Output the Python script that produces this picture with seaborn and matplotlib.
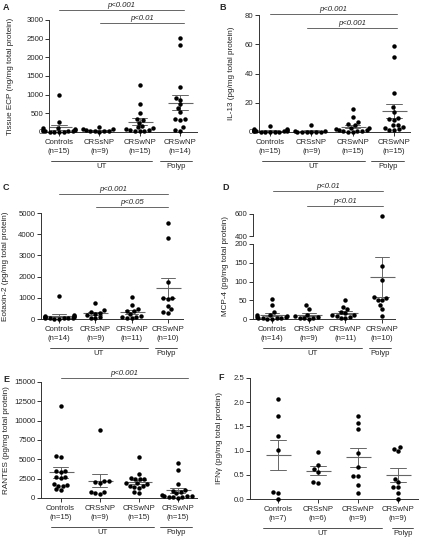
import numpy as np
import pandas as pd
import matplotlib
matplotlib.use("Agg")
import matplotlib.pyplot as plt
import matplotlib.transforms as mtrans
import seaborn as sns

W, H = 421, 539
FS = 5.6
FS_LAB = 5.9

groups = ["Controls", "CRSsNP", "CRSwNP_UT", "CRSwNP_Polyp"]
group_names = ["Controls", "CRSsNP", "CRSwNP", "CRSwNP"]

# values, one list per group
ecp = [
    [980, 280, 120, 100, 90, 60, 50, 40, 30, 20, 20, 10, 10, 5, 5],
    [130, 90, 70, 50, 40, 30, 20, 20, 10],
    [1260, 750, 500, 350, 330, 250, 160, 130, 100, 80, 60, 50, 40, 30, 20],
    [2520, 2340, 1200, 920, 870, 750, 640, 540, 350, 340, 330, 130, 50, 40],
]
il13 = [
    [4.2, 2.3, 2.0, 1.5, 1.2, 1.0, 0.8, 0.6, 0.5, 0.4, 0.3, 0.2, 0.1, 0.1, 0.0],
    [4.5, 1.0, 0.5, 0.3, 0.2, 0.2, 0.1, 0.1, 0.0],
    [16, 10, 6.5, 5.5, 4.5, 3, 2.5, 2, 1.5, 1.2, 1, 0.8, 0.5, 0.3, 0.2],
    [59, 51.5, 27, 17, 14, 9.5, 9, 8.5, 5, 4.5, 3.5, 2.5, 2, 1.5, 1.5],
]
eotaxin2 = [
    [1100, 180, 150, 120, 100, 90, 80, 70, 60, 50, 40, 30, 20, 10],
    [760, 420, 330, 300, 250, 180, 80, 60, 40],
    [1050, 650, 450, 400, 380, 250, 120, 100, 80, 60, 50],
    [4550, 3820, 1750, 1000, 1000, 950, 600, 450, 350, 300],
]
mcp4 = [
    [53, 37, 18, 12, 10, 8, 6, 5, 4, 3, 2, 2, 1, 1],
    [38, 28, 12, 8, 6, 4, 3, 2, 1],
    [51, 33, 26, 20, 15, 12, 10, 8, 5, 3, 2],
    [580, 142, 104, 60, 57, 52, 50, 38, 27, 8],
]
rantes = [
    [11900, 5400, 5300, 3500, 3450, 3400, 2750, 2700, 2650, 1800, 1700, 1600, 1500, 1100, 1000],
    [8850, 2200, 2150, 2100, 2000, 800, 750, 600, 550],
    [5350, 3100, 2600, 2500, 2450, 2400, 2000, 1900, 1800, 1600, 1500, 1400, 1350, 750, 650],
    [4550, 3600, 1800, 1000, 900, 800, 600, 400, 300, 250, 200, 150, 100, 100, 50],
]
ifng = [
    [2.07, 1.72, 1.31, 1.01, 0.15, 0.13, 0.0],
    [0.98, 0.71, 0.61, 0.55, 0.35, 0.33],
    [1.71, 1.57, 1.45, 0.95, 0.67, 0.48, 0.48, 0.29, 0.12],
    [1.08, 1.04, 1.00, 0.42, 0.35, 0.25, 0.24, 0.12, 0.0],
]

sns.set_style("ticks")
plt.rcParams["font.family"] = ["Liberation Sans", "DejaVu Sans"]
plt.rcParams["axes.linewidth"] = 0.7
plt.rcParams["axes.edgecolor"] = "#333333"

fig = plt.figure(figsize=(W / 100, H / 100), dpi=100)

AX_C = "#333333"
BAR_C = "#666666"


def to_df(vals):
    g, v = [], []
    for name, arr in zip(groups, vals):
        g += [name] * len(arr)
        v += list(arr)
    return pd.DataFrame({"group": g, "value": v})


def add_ax(x0, y0, x1, y1):
    return fig.add_axes([x0 / W, 1 - y1 / H, (x1 - x0) / W, (y1 - y0) / H])


def draw_points(ax, df, clip=False):
    sns.swarmplot(data=df, x="group", y="value", order=groups, color="black",
                  size=3.2, ax=ax, warn_thresh=1)
    for c in ax.collections:
        c.set_clip_on(clip)


def draw_mean(ax, df, cap):
    sns.pointplot(data=df, x="group", y="value", order=groups, errorbar="se",
                  capsize=cap, marker="_", markersize=18, markeredgewidth=0.8,
                  linestyle="none", color=BAR_C, err_kws={"linewidth": 0.7}, ax=ax)


def style(ax, rect, xlim, ylim, yticks, vals, fmt="{:g}"):
    ax.set_xlim(*xlim)
    ax.set_ylim(*ylim)
    ax.set_yticks(yticks)
    ax.set_yticklabels([fmt.format(t) for t in yticks])
    ax.set_xticks(range(4))
    ax.set_xticklabels([f"{n}\n(n={len(a)})" for n, a in zip(group_names, vals)],
                       linespacing=1.45)
    ax.set_xlabel("")
    ax.set_ylabel("")
    sns.despine(ax=ax)
    ax.tick_params(axis="both", labelsize=FS, length=3, width=0.7, color=AX_C)
    ax.tick_params(axis="y", pad=1)
    ax.tick_params(axis="x", pad=2)


def ylabel(ax, rect, text, xc, yfrac=0.5):
    x0, y0, x1, y1 = rect
    ax.set_ylabel(text, fontsize=FS_LAB)
    ax.yaxis.set_label_coords((xc + 4 - x0) / (x1 - x0), yfrac)


def brackets(ax, rect, ut, polyp):
    x0, y0, x1, y1 = rect
    h = y1 - y0
    tr = mtrans.blended_transform_factory(ax.transData, ax.transAxes)
    yl = -29 / h
    for (a, b), lab in [(ut, "UT"), (polyp, "Polyp")]:
        ax.plot([a, b], [yl, yl], transform=tr, clip_on=False, color=AX_C, lw=0.6)
        ax.text((a + b) / 2, yl - 2 / h, lab, transform=tr, ha="center", va="top",
                fontsize=FS)


def sig(ax, bars):
    for a, b, y, txt in bars:
        ax.plot([a, b], [y, y], color=BAR_C, lw=0.7, clip_on=False)
        ax.annotate(txt, xy=((a + b) / 2, y), xytext=(0, 1), textcoords="offset points",
                    ha="center", va="bottom", fontsize=FS, style="italic",
                    annotation_clip=False)


def panel(rect, vals, xlim, ylim, yticks, label, label_x, ut, polyp, bars,
          cap=0.38, fmt="{:g}"):
    ax = add_ax(*rect)
    df = to_df(vals)
    draw_points(ax, df)
    draw_mean(ax, df, cap)
    style(ax, rect, xlim, ylim, yticks, vals, fmt)
    ylabel(ax, rect, label, label_x)
    brackets(ax, rect, ut, polyp)
    sig(ax, bars)
    return ax


# A
panel((49, 20, 197, 132), ecp, (-0.25, 3.42), (0, 3000), range(0, 3001, 500),
      "Tissue ECP (ng/mg total protein)", 10, (-0.2, 2.3), (2.5, 3.3),
      [(0, 3.1, 3268, "p<0.001"), (1.02, 3.1, 2920, "p<0.01")])

# B
panel((259, 15, 410, 132), il13, (-0.27, 3.39), (0, 80), range(0, 81, 20),
      "IL-13 (pg/mg total protein)", 231, (-0.2, 2.3), (2.45, 3.25),
      [(0, 3.07, 80.7, "p<0.001"), (0.9, 3.07, 71.1, "p<0.001")])

# C
panel((41, 213, 183, 319), eotaxin2, (-0.5, 3.42), (0, 5000), range(0, 5001, 1000),
      "Eotaxin-2 (pg/mg total protein)", 5, (-0.25, 2.45), (2.64, 3.25),
      [(0, 3.0, 5896, "p<0.001"), (1.02, 3.0, 5283, "p<0.05")])

# D (broken y axis)
rect_lo = (253, 244, 395, 319)
rect_hi = (253, 214, 395, 236)
dxlim = (-0.52, 3.35)
df_d = to_df(mcp4)
ax_lo = add_ax(*rect_lo)
draw_points(ax_lo, df_d[df_d["value"] <= 200])
draw_mean(ax_lo, df_d, 0.38)
style(ax_lo, rect_lo, dxlim, (0, 200), range(0, 201, 50), mcp4)
ylabel(ax_lo, rect_lo, "MCP-4 (pg/mg total protein)", 225, (319 - 266) / 75)
brackets(ax_lo, rect_lo, (-0.25, 2.45), (2.64, 3.25))

ax_hi = add_ax(*rect_hi)
draw_points(ax_hi, df_d[df_d["value"] > 200])
ax_hi.set_xlim(*dxlim)
ax_hi.set_ylim(400, 600)
ax_hi.set_yticks([400, 600])
ax_hi.set_xticks([])
ax_hi.set_xlabel("")
ax_hi.set_ylabel("")
sns.despine(ax=ax_hi, bottom=True)
ax_hi.tick_params(axis="y", labelsize=FS, length=3, width=0.7, color=AX_C, pad=1)
sig(ax_hi, [(0.03, 3.02, 809, "p<0.01"), (0.95, 3.02, 673, "p<0.01")])

# E
panel((41, 382, 197, 498), rantes, (-0.5, 3.49), (0, 15000), range(0, 15001, 2500),
      "RANTES (pg/mg total protein)", 6, (-0.25, 2.39), (2.54, 3.36),
      [(0, 3.25, 15517, "p<0.001")])

# F
panel((250, 378, 418, 499), ifng, (-0.7, 3.5), (0, 2.5), np.arange(0, 2.51, 0.5),
      "IFNγ (pg/mg total protein)", 219, (-0.37, 2.6), (2.85, 3.38), [],
      cap=0.42, fmt="{:.1f}")

for x, y, t in [(3, 8, "A"), (219, 7, "B"), (3, 188, "C"), (222, 188, "D"),
                (3, 380, "E"), (218, 378, "F")]:
    fig.text(x / W, 1 - y / H, t, fontsize=6.5, fontweight="bold", ha="left", va="center")

fig.savefig("out.png", dpi=100)
